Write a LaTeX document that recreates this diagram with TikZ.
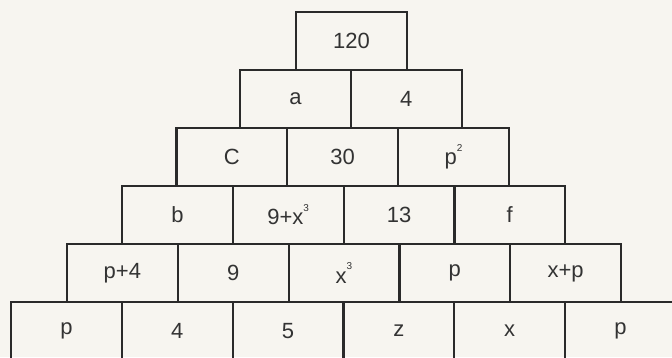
\documentclass[tikz,border=0pt]{standalone}
\usepackage{fontspec}
\setmainfont{Liberation Sans}
\definecolor{bg}{HTML}{F7F5F0}
\definecolor{linec}{HTML}{2A2A2A}
\definecolor{textc}{HTML}{333333}
\newcommand{\sups}[1]{\raisebox{0.6em}{\fontsize{10}{10}\selectfont #1}}
\begin{document}
\begin{tikzpicture}[x=1pt,y=-1pt,
  brick/.style={draw=linec, line width=2.2pt, minimum width=110.8pt,
    minimum height=58pt, inner sep=0pt, outer sep=0pt, anchor=north west, text=textc,
    font=\fontsize{22}{22}\selectfont}]
\useasboundingbox (0,0) rectangle (672,357);
\fill[bg] (0,0) rectangle (672,357);
\clip (0,0) rectangle (672,357);
% row 1
\node[brick] (a1) at (296,12) {120};
% row 2
\node[brick] (b1) at (240,70) {a};
\node[brick] (b2) at (b1.north east) {4};
% row 3
\node[brick] (c1) at (176.5,128) {C};
\node[brick] (c2) at (c1.north east) {30};
\node[brick] (c3) at (c2.north east) {p\sups{2}};
% row 4
\node[brick] (d1) at (122,186) {b};
\node[brick] (d2) at (d1.north east) {9+x\sups{3}};
\node[brick] (d3) at (d2.north east) {13};
\node[brick] (d4) at (d3.north east) {f};
% row 5
\node[brick] (e1) at (67,244) {p+4};
\node[brick] (e2) at (e1.north east) {9};
\node[brick] (e3) at (e2.north east) {x\sups{3}};
\node[brick] (e4) at (e3.north east) {p};
\node[brick] (e5) at (e4.north east) {x+p};
% row 6
\node[brick] (f1) at (11,302) {p};
\node[brick] (f2) at (f1.north east) {4};
\node[brick] (f3) at (f2.north east) {5};
\node[brick] (f4) at (f3.north east) {z};
\node[brick] (f5) at (f4.north east) {x};
\node[brick] (f6) at (f5.north east) {p};
\end{tikzpicture}
\end{document}
